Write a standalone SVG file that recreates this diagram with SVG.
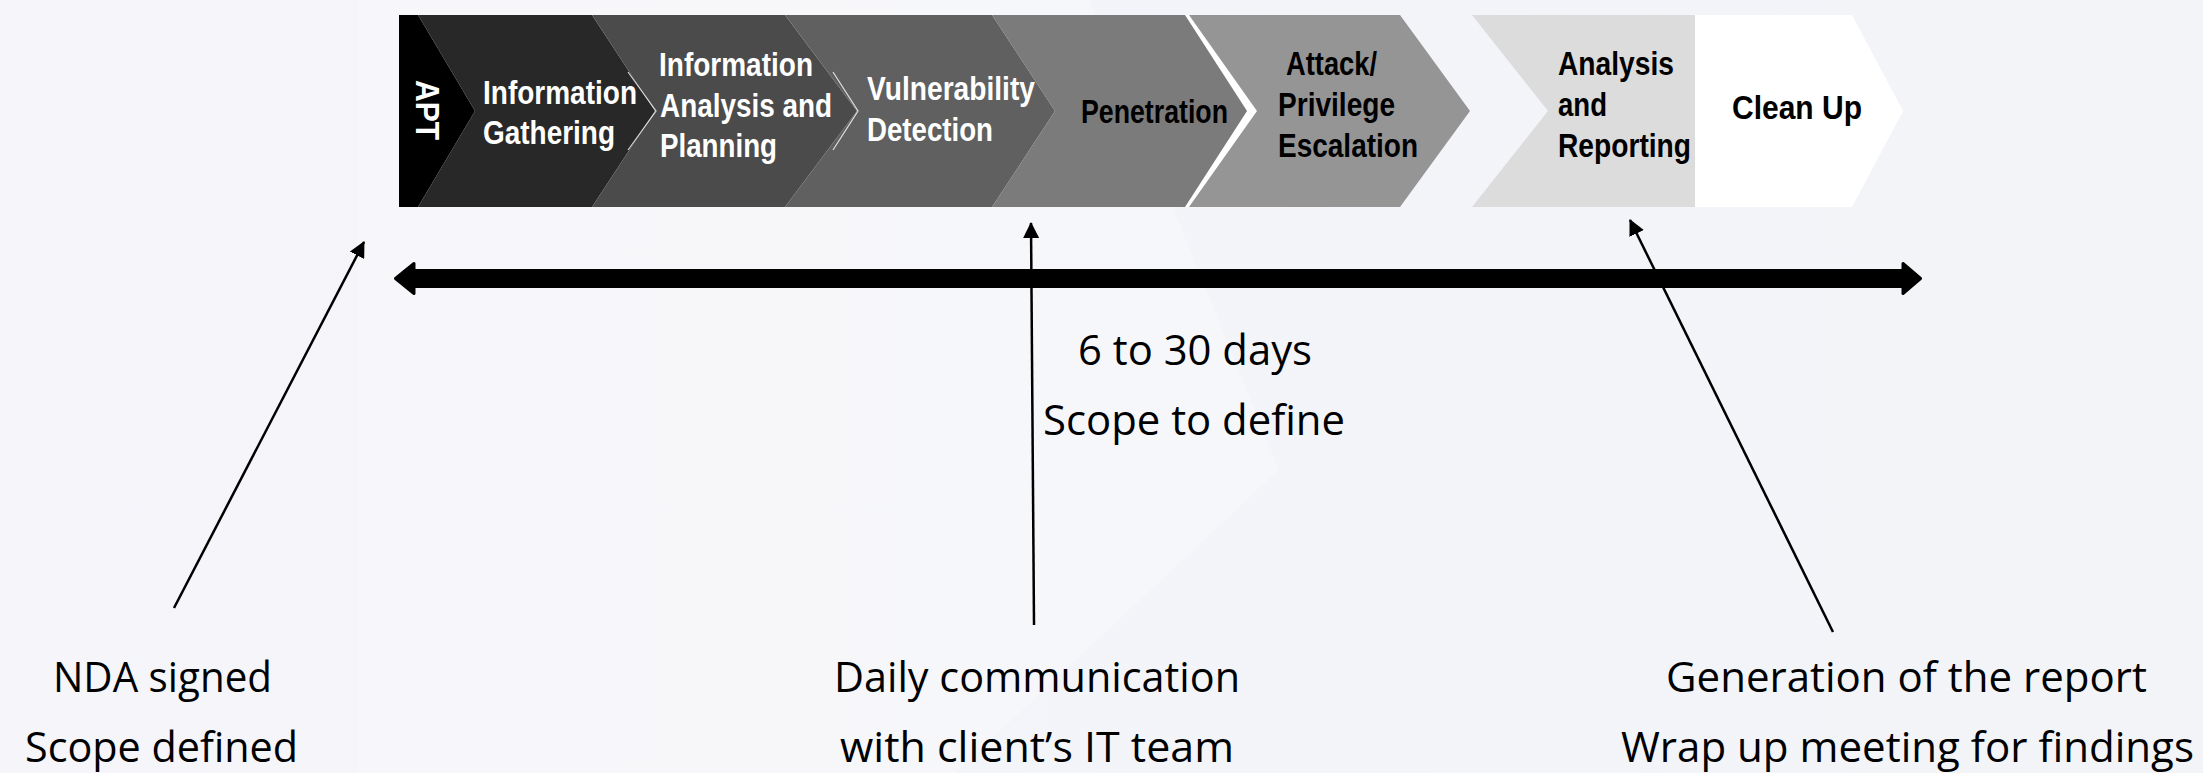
<svg xmlns="http://www.w3.org/2000/svg" width="2203" height="773" viewBox="0 0 2203 773">
<style>
.ct{font-family:"Liberation Sans Narrow","Liberation Sans",Arial,sans-serif;font-weight:bold;font-size:34px}
.w{fill:#ffffff}
.k{fill:#000000}
.lt{font-family:"Open Sans","Liberation Sans",sans-serif;font-size:42px;fill:#000000}
.conn{stroke:#000;stroke-width:2.5;fill:none}
</style>
<defs>
<linearGradient id="bg" x1="0" y1="0" x2="1" y2="0">
<stop offset="0" stop-color="#f5f5fa"/>
<stop offset="1" stop-color="#f2f4f8"/>
</linearGradient>
<marker id="ah" viewBox="0 0 16 16" markerUnits="userSpaceOnUse" markerWidth="16" markerHeight="16" refX="15" refY="8" orient="auto">
<path d="M0,0 L16,8 L0,16 Z" fill="#000"/>
</marker>
</defs>
<rect x="0" y="0" width="2203" height="773" fill="url(#bg)"/>
<polygon points="358,0 1089,0 1279,470 955,773 358,773" fill="#ffffff" opacity="0.25"/>

<g id="apt">
<polygon points="399,15 418,15 475,111 418,207 399,207" fill="#000000"/>
<text class="ct w" font-size="31" text-anchor="middle" textLength="60" lengthAdjust="spacingAndGlyphs" transform="translate(416,110) rotate(90)" x="0" y="0">APT</text>
</g>
<g id="info-gathering">
<polygon points="418,15 592,15 655,111 592,207 418,207 475,111" fill="#282828"/>
<text class="ct w" x="483" y="104" textLength="154" lengthAdjust="spacingAndGlyphs">Information</text>
<text class="ct w" x="483" y="144" textLength="132" lengthAdjust="spacingAndGlyphs">Gathering</text>
</g>
<g id="info-analysis">
<polygon points="592,15 785,15 857,111 785,207 592,207 655,111" fill="#4b4b4b"/>
<polyline points="628,72 656,111 628,150" fill="none" stroke="#ffffff" stroke-width="1.2" opacity="0.8"/>
<text class="ct w" x="659" y="76" textLength="154" lengthAdjust="spacingAndGlyphs">Information</text>
<text class="ct w" x="660" y="117" textLength="172" lengthAdjust="spacingAndGlyphs">Analysis and</text>
<text class="ct w" x="660" y="157" textLength="117" lengthAdjust="spacingAndGlyphs">Planning</text>
</g>
<g id="vulnerability">
<polygon points="785,15 992,15 1055,111 992,207 785,207 857,111" fill="#606060"/>
<polyline points="833,72 858,111 833,150" fill="none" stroke="#ffffff" stroke-width="1.2" opacity="0.8"/>
<text class="ct w" x="867" y="100" textLength="168" lengthAdjust="spacingAndGlyphs">Vulnerability</text>
<text class="ct w" x="867" y="141" textLength="126" lengthAdjust="spacingAndGlyphs">Detection</text>
</g>
<g id="penetration">
<polygon points="1185,15 1189,15 1257,111 1189,207 1185,207 1247,111" fill="#ffffff"/>
<polygon points="992,15 1185,15 1247,111 1185,207 992,207 1055,111" fill="#7b7b7b"/>
<text class="ct k" x="1081" y="123" textLength="147" lengthAdjust="spacingAndGlyphs">Penetration</text>
</g>
<g id="attack">
<polygon points="1189,15 1400,15 1470,111 1400,207 1189,207 1257,111" fill="#959595"/>
<text class="ct k" x="1286" y="75" textLength="91" lengthAdjust="spacingAndGlyphs">Attack/</text>
<text class="ct k" x="1278" y="116" textLength="117" lengthAdjust="spacingAndGlyphs">Privilege</text>
<text class="ct k" x="1278" y="157" textLength="140" lengthAdjust="spacingAndGlyphs">Escalation</text>
</g>
<g id="analysis-reporting">
<polygon points="1472,15 1695,15 1695,207 1472,207 1548,111" fill="#dcdcdc"/>
<text class="ct k" x="1558" y="75" textLength="116" lengthAdjust="spacingAndGlyphs">Analysis</text>
<text class="ct k" x="1558" y="116" textLength="49" lengthAdjust="spacingAndGlyphs">and</text>
<text class="ct k" x="1558" y="157" textLength="133" lengthAdjust="spacingAndGlyphs">Reporting</text>
</g>
<g id="clean-up">
<polygon points="1695,15 1852,15 1903,111 1852,207 1695,207" fill="#ffffff"/>
<text class="ct k" x="1732" y="119" textLength="130" lengthAdjust="spacingAndGlyphs">Clean Up</text>
</g>

<g id="timeline">
<path d="M395.5,278.5 L414,263.5 L414,270.5 L1903,270.5 L1903,263.5 L1920.5,278.5 L1903,293.5 L1903,286.5 L414,286.5 L414,293.5 Z" fill="#000" stroke="#000" stroke-width="3" stroke-linejoin="round"/>
</g>

<g id="duration">
<text class="lt" x="1078" y="365" textLength="234" lengthAdjust="spacingAndGlyphs">6 to 30 days</text>
<text class="lt" x="1043" y="435" textLength="302" lengthAdjust="spacingAndGlyphs">Scope to define</text>
</g>
<g id="note-start">
<text class="lt" x="53" y="692" textLength="219" lengthAdjust="spacingAndGlyphs">NDA signed</text>
<text class="lt" x="25" y="762" textLength="273" lengthAdjust="spacingAndGlyphs">Scope defined</text>
</g>
<g id="note-middle">
<text class="lt" x="834" y="692" textLength="406" lengthAdjust="spacingAndGlyphs">Daily communication</text>
<text class="lt" x="840" y="762" textLength="394" lengthAdjust="spacingAndGlyphs">with client’s IT team</text>
</g>
<g id="note-end">
<text class="lt" x="1666" y="692" textLength="481" lengthAdjust="spacingAndGlyphs">Generation of the report</text>
<text class="lt" x="1621" y="762" textLength="573" lengthAdjust="spacingAndGlyphs">Wrap up meeting for findings</text>
</g>

<g id="connectors">
<path class="conn" d="M174,608 L364,242" marker-end="url(#ah)"/>
<path class="conn" d="M1034,625 L1031,223" marker-end="url(#ah)"/>
<path class="conn" d="M1833,632 L1630,220" marker-end="url(#ah)"/>
</g>
</svg>
